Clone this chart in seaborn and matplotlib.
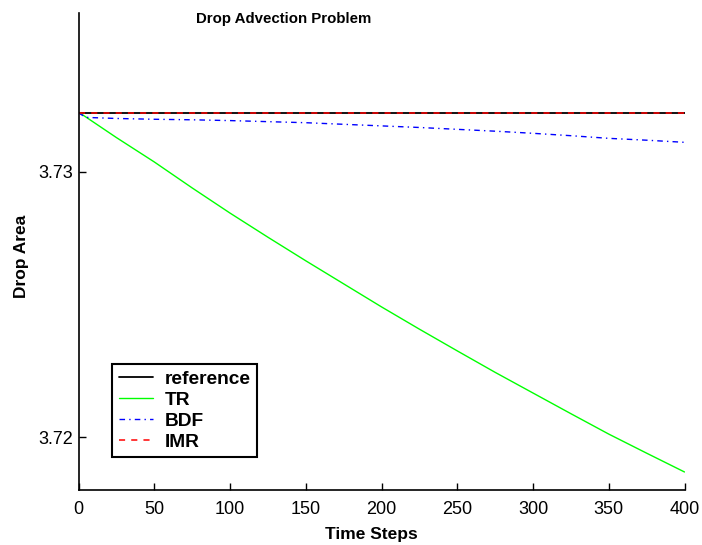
import matplotlib
matplotlib.use("Agg")
import matplotlib.pyplot as plt
import seaborn as sns
import pandas as pd

# Sampled time steps and drop area for each integrator
steps = [0, 5, 25, 50, 75, 100, 125, 150, 175, 200, 225, 250, 275, 300, 325, 350, 375, 400]
reference = [3.73224] * len(steps)
tr = [3.73226, 3.73207, 3.73130, 3.73038, 3.72940, 3.72845, 3.72754, 3.72665, 3.72578,
      3.72491, 3.72407, 3.72325, 3.72244, 3.72166, 3.72088, 3.72011, 3.71939, 3.71868]
bdf = [3.73223, 3.73206, 3.73202, 3.73199, 3.73197, 3.73194, 3.73190, 3.73186, 3.73180,
       3.73174, 3.73168, 3.73161, 3.73154, 3.73146, 3.73137, 3.73127, 3.73120, 3.73112]
imr = [3.73221] * len(steps)

series_names = ["reference", "TR", "BDF", "IMR"]
x_ticks = [0, 50, 100, 150, 200, 250, 300, 350, 400]
y_ticks = [3.72, 3.73]

sns.set_style("ticks")
plt.rcParams["font.family"] = ["Liberation Sans", "DejaVu Sans"]
plt.rcParams["text.color"] = "black"
plt.rcParams["axes.labelcolor"] = "black"
plt.rcParams["xtick.color"] = "black"
plt.rcParams["ytick.color"] = "black"

df = pd.DataFrame({"step": steps, "reference": reference, "TR": tr, "BDF": bdf, "IMR": imr})

fig = plt.figure(figsize=(7.02, 5.45), dpi=100)
ax = fig.add_axes([78.5 / 702, 55 / 545, 606 / 702, 477 / 545])

styles = {
    "reference": dict(color="black", linewidth=1.3),
    "TR": dict(color="#00ff00", linewidth=1.0),
    "BDF": dict(color="#0000ff", linewidth=1.0, dashes=(4, 3, 1, 3)),
    "IMR": dict(color="#ff0000", linewidth=1.1, dashes=(4, 4)),
}
for name in series_names:
    st = dict(styles[name])
    dashes = st.pop("dashes", None)
    line_ax = sns.lineplot(data=df, x="step", y=name, ax=ax, label=name, **st)
    if dashes is not None:
        line_ax.lines[-1].set_dashes(dashes)

ax.set_xlim(0, 400)
ax.set_ylim(3.718, 3.736)
ax.set_xticks(x_ticks)
ax.set_xticklabels([str(t) for t in x_ticks])
ax.set_yticks(y_ticks)
ax.set_yticklabels(["3.72", "3.73"])
ax.tick_params(axis="both", direction="in", length=5, width=1, labelsize=13, colors="black")
ax.tick_params(axis="x", pad=8)
ax.tick_params(axis="y", pad=4)

for side in ["top", "right"]:
    ax.spines[side].set_visible(False)
for side in ["left", "bottom"]:
    ax.spines[side].set_color("black")
    ax.spines[side].set_linewidth(1.2)

ax.set_xlabel("Time Steps", fontsize=12.5, fontweight="bold")
ax.set_ylabel("Drop Area", fontsize=12.5, fontweight="bold")
ax.xaxis.set_label_coords((371 - 78.5) / 606, -(527 - 490) / 477)
ax.yaxis.set_label_coords(-(78.5 - 29) / 606, (490 - 256) / 477)

fig.text(284 / 702, 1 - 19 / 545, "Drop Advection Problem", ha="center", va="center",
         fontsize=10.8, fontweight="bold")

leg = ax.legend(loc="upper left", bbox_to_anchor=(112 / 702, 1 - 364 / 545),
                bbox_transform=fig.transFigure, borderaxespad=0, fancybox=False,
                frameon=True, edgecolor="black", framealpha=1,
                prop={"size": 13.8, "weight": "bold"}, handlelength=1.8,
                handletextpad=0.6, labelspacing=0.18, borderpad=0.35)
leg.get_frame().set_linewidth(1.5)

fig.savefig("out.png", dpi=100)
